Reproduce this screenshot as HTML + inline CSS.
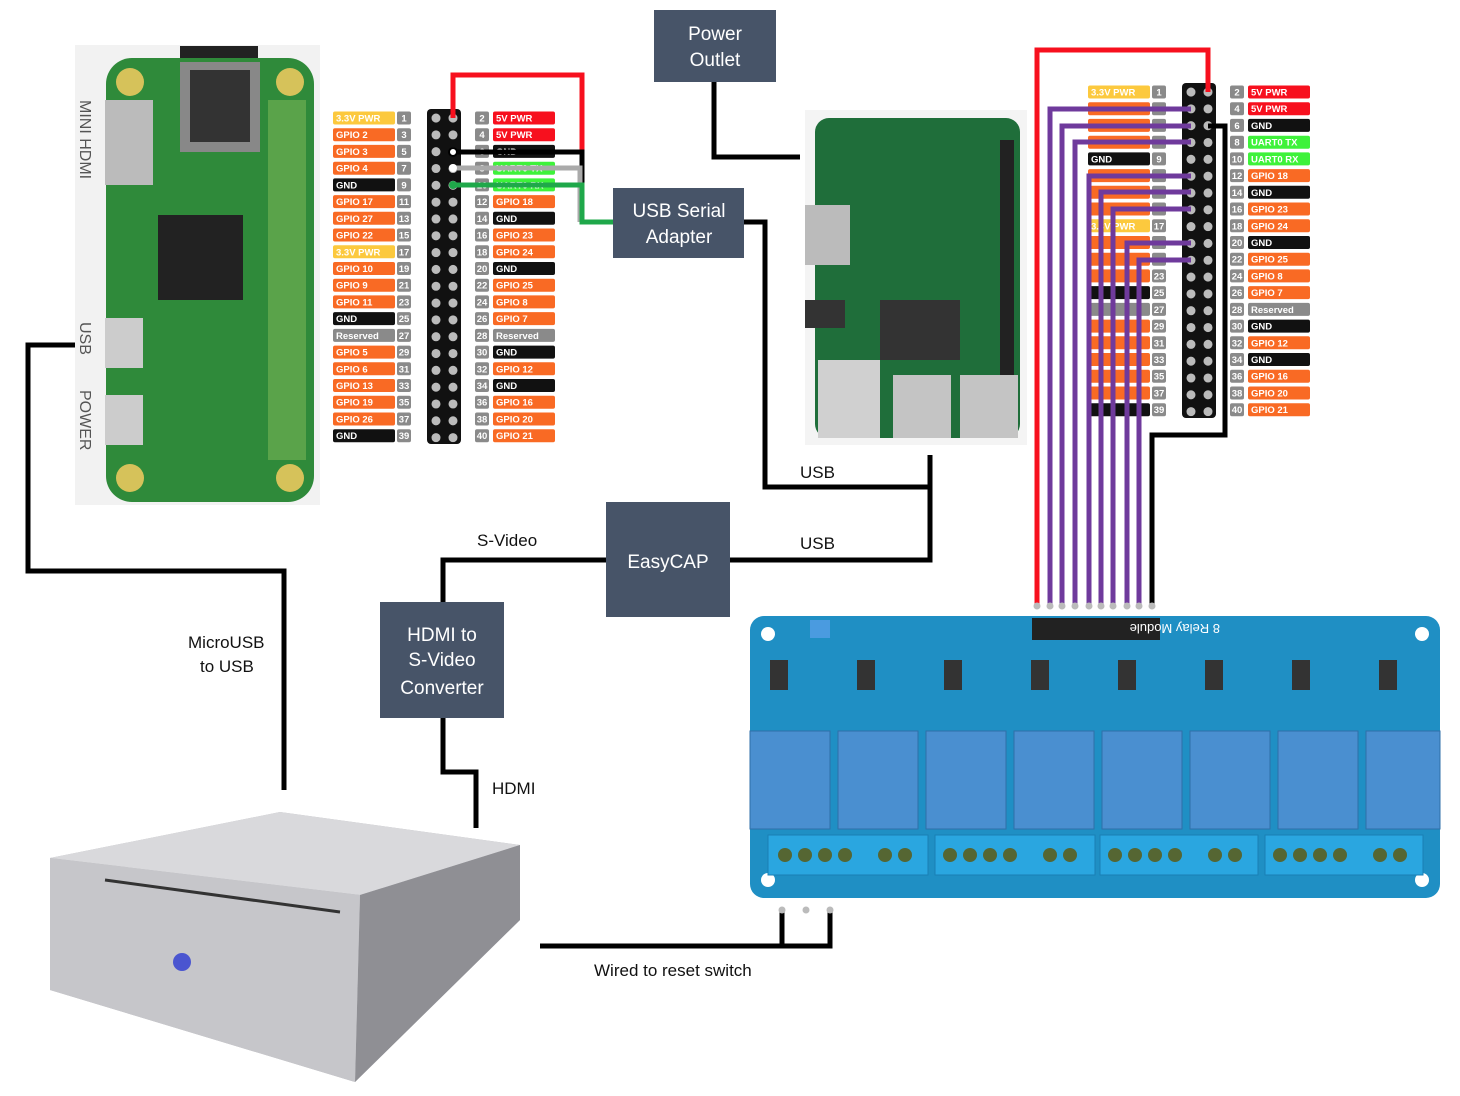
<!DOCTYPE html>
<html><head><meta charset="utf-8"><style>
body{margin:0;background:#fff;width:1460px;height:1096px;overflow:hidden}
svg{display:block;font-family:"Liberation Sans",sans-serif}
.y{fill:#fcc93e}.o{fill:#f96a24}.k{fill:#111}.r{fill:#f7101e}.g{fill:#3ef23a}.gr{fill:#8a8a8a}
.t{fill:#fff;font-size:9.5px;font-weight:bold}
.n{fill:#fff;font-size:9.5px;font-weight:bold;text-anchor:middle}
.box{fill:#475468}
.bt{fill:#fff;font-size:19px;text-anchor:middle}
.lb{fill:#111;font-size:17px}
.w{fill:none;stroke:#000;stroke-width:5}
</style></head><body>
<svg width="1460" height="1096" viewBox="0 0 1460 1096">
<!-- Pi Zero -->
<rect x="75" y="45" width="245" height="460" fill="#f2f2f2"/>
<rect x="180" y="46" width="78" height="16" fill="#222"/>
<rect x="106" y="58" width="208" height="444" rx="26" fill="#2f8a3a"/>
<circle cx="130" cy="82" r="14" fill="#d6c25a"/><circle cx="290" cy="82" r="14" fill="#d6c25a"/>
<circle cx="130" cy="478" r="14" fill="#d6c25a"/><circle cx="290" cy="478" r="14" fill="#d6c25a"/>
<rect x="180" y="62" width="80" height="90" fill="#888"/><rect x="190" y="70" width="60" height="72" fill="#333"/>
<rect x="105" y="100" width="48" height="85" fill="#bbb"/>
<rect x="158" y="215" width="85" height="85" fill="#222"/>
<rect x="105" y="318" width="38" height="50" fill="#ccc"/><rect x="105" y="395" width="38" height="50" fill="#ccc"/>
<rect x="268" y="100" width="38" height="360" fill="#5aa34a"/>
<text x="80" y="100" font-size="16" fill="#555" transform="rotate(90 80 100)">MINI HDMI</text>
<text x="80" y="322" font-size="16" fill="#555" transform="rotate(90 80 322)">USB</text>
<text x="80" y="390" font-size="16" fill="#555" transform="rotate(90 80 390)">POWER</text>

<!-- Left pinout -->
<g transform="translate(333,0)">
<rect x="94" y="109" width="34" height="335" rx="4" fill="#111"/>
<g transform="translate(0,118)"><rect class="y" x="0" y="-6.5" width="62" height="13" rx="2"/><text class="t" x="3" y="3.5">3.3V PWR</text><rect class="gr" x="64" y="-6.5" width="14" height="13" rx="2"/><text class="n" x="71" y="3.5">1</text><rect class="gr" x="142" y="-6.5" width="14" height="13" rx="2"/><text class="n" x="149" y="3.5">2</text><rect class="r" x="160" y="-6.5" width="62" height="13" rx="2"/><text class="t" x="163" y="3.5">5V PWR</text></g>
<g transform="translate(0,134.7)"><rect class="o" x="0" y="-6.5" width="62" height="13" rx="2"/><text class="t" x="3" y="3.5">GPIO 2</text><rect class="gr" x="64" y="-6.5" width="14" height="13" rx="2"/><text class="n" x="71" y="3.5">3</text><rect class="gr" x="142" y="-6.5" width="14" height="13" rx="2"/><text class="n" x="149" y="3.5">4</text><rect class="r" x="160" y="-6.5" width="62" height="13" rx="2"/><text class="t" x="163" y="3.5">5V PWR</text></g>
<g transform="translate(0,151.4)"><rect class="o" x="0" y="-6.5" width="62" height="13" rx="2"/><text class="t" x="3" y="3.5">GPIO 3</text><rect class="gr" x="64" y="-6.5" width="14" height="13" rx="2"/><text class="n" x="71" y="3.5">5</text><rect class="gr" x="142" y="-6.5" width="14" height="13" rx="2"/><text class="n" x="149" y="3.5">6</text><rect class="k" x="160" y="-6.5" width="62" height="13" rx="2"/><text class="t" x="163" y="3.5">GND</text></g>
<g transform="translate(0,168.2)"><rect class="o" x="0" y="-6.5" width="62" height="13" rx="2"/><text class="t" x="3" y="3.5">GPIO 4</text><rect class="gr" x="64" y="-6.5" width="14" height="13" rx="2"/><text class="n" x="71" y="3.5">7</text><rect class="gr" x="142" y="-6.5" width="14" height="13" rx="2"/><text class="n" x="149" y="3.5">8</text><rect class="g" x="160" y="-6.5" width="62" height="13" rx="2"/><text class="t" x="163" y="3.5">UART0 TX</text></g>
<g transform="translate(0,184.9)"><rect class="k" x="0" y="-6.5" width="62" height="13" rx="2"/><text class="t" x="3" y="3.5">GND</text><rect class="gr" x="64" y="-6.5" width="14" height="13" rx="2"/><text class="n" x="71" y="3.5">9</text><rect class="gr" x="142" y="-6.5" width="14" height="13" rx="2"/><text class="n" x="149" y="3.5">10</text><rect class="g" x="160" y="-6.5" width="62" height="13" rx="2"/><text class="t" x="163" y="3.5">UART0 RX</text></g>
<g transform="translate(0,201.6)"><rect class="o" x="0" y="-6.5" width="62" height="13" rx="2"/><text class="t" x="3" y="3.5">GPIO 17</text><rect class="gr" x="64" y="-6.5" width="14" height="13" rx="2"/><text class="n" x="71" y="3.5">11</text><rect class="gr" x="142" y="-6.5" width="14" height="13" rx="2"/><text class="n" x="149" y="3.5">12</text><rect class="o" x="160" y="-6.5" width="62" height="13" rx="2"/><text class="t" x="163" y="3.5">GPIO 18</text></g>
<g transform="translate(0,218.3)"><rect class="o" x="0" y="-6.5" width="62" height="13" rx="2"/><text class="t" x="3" y="3.5">GPIO 27</text><rect class="gr" x="64" y="-6.5" width="14" height="13" rx="2"/><text class="n" x="71" y="3.5">13</text><rect class="gr" x="142" y="-6.5" width="14" height="13" rx="2"/><text class="n" x="149" y="3.5">14</text><rect class="k" x="160" y="-6.5" width="62" height="13" rx="2"/><text class="t" x="163" y="3.5">GND</text></g>
<g transform="translate(0,235)"><rect class="o" x="0" y="-6.5" width="62" height="13" rx="2"/><text class="t" x="3" y="3.5">GPIO 22</text><rect class="gr" x="64" y="-6.5" width="14" height="13" rx="2"/><text class="n" x="71" y="3.5">15</text><rect class="gr" x="142" y="-6.5" width="14" height="13" rx="2"/><text class="n" x="149" y="3.5">16</text><rect class="o" x="160" y="-6.5" width="62" height="13" rx="2"/><text class="t" x="163" y="3.5">GPIO 23</text></g>
<g transform="translate(0,251.8)"><rect class="y" x="0" y="-6.5" width="62" height="13" rx="2"/><text class="t" x="3" y="3.5">3.3V PWR</text><rect class="gr" x="64" y="-6.5" width="14" height="13" rx="2"/><text class="n" x="71" y="3.5">17</text><rect class="gr" x="142" y="-6.5" width="14" height="13" rx="2"/><text class="n" x="149" y="3.5">18</text><rect class="o" x="160" y="-6.5" width="62" height="13" rx="2"/><text class="t" x="163" y="3.5">GPIO 24</text></g>
<g transform="translate(0,268.5)"><rect class="o" x="0" y="-6.5" width="62" height="13" rx="2"/><text class="t" x="3" y="3.5">GPIO 10</text><rect class="gr" x="64" y="-6.5" width="14" height="13" rx="2"/><text class="n" x="71" y="3.5">19</text><rect class="gr" x="142" y="-6.5" width="14" height="13" rx="2"/><text class="n" x="149" y="3.5">20</text><rect class="k" x="160" y="-6.5" width="62" height="13" rx="2"/><text class="t" x="163" y="3.5">GND</text></g>
<g transform="translate(0,285.2)"><rect class="o" x="0" y="-6.5" width="62" height="13" rx="2"/><text class="t" x="3" y="3.5">GPIO 9</text><rect class="gr" x="64" y="-6.5" width="14" height="13" rx="2"/><text class="n" x="71" y="3.5">21</text><rect class="gr" x="142" y="-6.5" width="14" height="13" rx="2"/><text class="n" x="149" y="3.5">22</text><rect class="o" x="160" y="-6.5" width="62" height="13" rx="2"/><text class="t" x="163" y="3.5">GPIO 25</text></g>
<g transform="translate(0,301.9)"><rect class="o" x="0" y="-6.5" width="62" height="13" rx="2"/><text class="t" x="3" y="3.5">GPIO 11</text><rect class="gr" x="64" y="-6.5" width="14" height="13" rx="2"/><text class="n" x="71" y="3.5">23</text><rect class="gr" x="142" y="-6.5" width="14" height="13" rx="2"/><text class="n" x="149" y="3.5">24</text><rect class="o" x="160" y="-6.5" width="62" height="13" rx="2"/><text class="t" x="163" y="3.5">GPIO 8</text></g>
<g transform="translate(0,318.6)"><rect class="k" x="0" y="-6.5" width="62" height="13" rx="2"/><text class="t" x="3" y="3.5">GND</text><rect class="gr" x="64" y="-6.5" width="14" height="13" rx="2"/><text class="n" x="71" y="3.5">25</text><rect class="gr" x="142" y="-6.5" width="14" height="13" rx="2"/><text class="n" x="149" y="3.5">26</text><rect class="o" x="160" y="-6.5" width="62" height="13" rx="2"/><text class="t" x="163" y="3.5">GPIO 7</text></g>
<g transform="translate(0,335.4)"><rect class="gr" x="0" y="-6.5" width="62" height="13" rx="2"/><text class="t" x="3" y="3.5">Reserved</text><rect class="gr" x="64" y="-6.5" width="14" height="13" rx="2"/><text class="n" x="71" y="3.5">27</text><rect class="gr" x="142" y="-6.5" width="14" height="13" rx="2"/><text class="n" x="149" y="3.5">28</text><rect class="gr" x="160" y="-6.5" width="62" height="13" rx="2"/><text class="t" x="163" y="3.5">Reserved</text></g>
<g transform="translate(0,352.1)"><rect class="o" x="0" y="-6.5" width="62" height="13" rx="2"/><text class="t" x="3" y="3.5">GPIO 5</text><rect class="gr" x="64" y="-6.5" width="14" height="13" rx="2"/><text class="n" x="71" y="3.5">29</text><rect class="gr" x="142" y="-6.5" width="14" height="13" rx="2"/><text class="n" x="149" y="3.5">30</text><rect class="k" x="160" y="-6.5" width="62" height="13" rx="2"/><text class="t" x="163" y="3.5">GND</text></g>
<g transform="translate(0,368.8)"><rect class="o" x="0" y="-6.5" width="62" height="13" rx="2"/><text class="t" x="3" y="3.5">GPIO 6</text><rect class="gr" x="64" y="-6.5" width="14" height="13" rx="2"/><text class="n" x="71" y="3.5">31</text><rect class="gr" x="142" y="-6.5" width="14" height="13" rx="2"/><text class="n" x="149" y="3.5">32</text><rect class="o" x="160" y="-6.5" width="62" height="13" rx="2"/><text class="t" x="163" y="3.5">GPIO 12</text></g>
<g transform="translate(0,385.5)"><rect class="o" x="0" y="-6.5" width="62" height="13" rx="2"/><text class="t" x="3" y="3.5">GPIO 13</text><rect class="gr" x="64" y="-6.5" width="14" height="13" rx="2"/><text class="n" x="71" y="3.5">33</text><rect class="gr" x="142" y="-6.5" width="14" height="13" rx="2"/><text class="n" x="149" y="3.5">34</text><rect class="k" x="160" y="-6.5" width="62" height="13" rx="2"/><text class="t" x="163" y="3.5">GND</text></g>
<g transform="translate(0,402.2)"><rect class="o" x="0" y="-6.5" width="62" height="13" rx="2"/><text class="t" x="3" y="3.5">GPIO 19</text><rect class="gr" x="64" y="-6.5" width="14" height="13" rx="2"/><text class="n" x="71" y="3.5">35</text><rect class="gr" x="142" y="-6.5" width="14" height="13" rx="2"/><text class="n" x="149" y="3.5">36</text><rect class="o" x="160" y="-6.5" width="62" height="13" rx="2"/><text class="t" x="163" y="3.5">GPIO 16</text></g>
<g transform="translate(0,419)"><rect class="o" x="0" y="-6.5" width="62" height="13" rx="2"/><text class="t" x="3" y="3.5">GPIO 26</text><rect class="gr" x="64" y="-6.5" width="14" height="13" rx="2"/><text class="n" x="71" y="3.5">37</text><rect class="gr" x="142" y="-6.5" width="14" height="13" rx="2"/><text class="n" x="149" y="3.5">38</text><rect class="o" x="160" y="-6.5" width="62" height="13" rx="2"/><text class="t" x="163" y="3.5">GPIO 20</text></g>
<g transform="translate(0,435.7)"><rect class="k" x="0" y="-6.5" width="62" height="13" rx="2"/><text class="t" x="3" y="3.5">GND</text><rect class="gr" x="64" y="-6.5" width="14" height="13" rx="2"/><text class="n" x="71" y="3.5">39</text><rect class="gr" x="142" y="-6.5" width="14" height="13" rx="2"/><text class="n" x="149" y="3.5">40</text><rect class="o" x="160" y="-6.5" width="62" height="13" rx="2"/><text class="t" x="163" y="3.5">GPIO 21</text></g>
<g fill="#bbb" stroke="#bbb" stroke-width="9" stroke-dasharray="0.1 16.72" stroke-linecap="round"><line x1="103" y1="118" x2="103" y2="440"/><line x1="120" y1="118" x2="120" y2="440"/></g>
</g>
<!-- left wires -->
<polyline points="453,118 453,75 582,75 582,165" fill="none" stroke="#f7101e" stroke-width="5"/>
<polyline points="453,152 582,152 582,222" fill="none" stroke="#000" stroke-width="5"/>
<polyline points="453,168 580,168 580,222" fill="none" stroke="#aaa" stroke-width="5"/>
<polyline points="453,185 582,185 582,222 613,222" fill="none" stroke="#1fa84a" stroke-width="5"/>
<circle cx="453" cy="152" r="4" fill="#fff" stroke="#000" stroke-width="2"/>
<circle cx="453" cy="168" r="4" fill="#fff"/>
<circle cx="453" cy="185" r="4" fill="#1fa84a"/>

<!-- Power outlet -->
<polyline class="w" points="714,82 714,157 800,157"/>
<rect class="box" x="654" y="10" width="122" height="72"/>
<text class="bt" x="715" y="40">Power</text><text class="bt" x="715" y="66">Outlet</text>

<!-- USB Serial -->
<polyline class="w" points="744,222 765,222 765,487 930,487 930,455"/>
<rect class="box" x="613" y="188" width="131" height="70"/>
<text class="bt" x="679" y="217">USB Serial</text><text class="bt" x="679" y="243">Adapter</text>
<text class="lb" x="800" y="478">USB</text>

<!-- Pi 3 -->
<rect x="805" y="110" width="222" height="335" fill="#f4f4f4"/>
<rect x="815" y="118" width="205" height="320" rx="14" fill="#1f6e3a"/>
<rect x="1000" y="140" width="14" height="290" fill="#222"/>
<rect x="880" y="300" width="80" height="60" fill="#333"/>
<rect x="805" y="205" width="45" height="60" fill="#bbb"/>
<rect x="818" y="360" width="62" height="78" fill="#d0d0d0"/>
<rect x="893" y="375" width="58" height="63" fill="#c4c4c4"/>
<rect x="960" y="375" width="58" height="63" fill="#c4c4c4"/>
<rect x="805" y="300" width="40" height="28" fill="#333"/>

<!-- Right pinout -->
<g transform="translate(1088,-26)">
<rect x="94" y="109" width="34" height="335" rx="4" fill="#111"/>
<g transform="translate(0,118)"><rect class="y" x="0" y="-6.5" width="62" height="13" rx="2"/><text class="t" x="3" y="3.5">3.3V PWR</text><rect class="gr" x="64" y="-6.5" width="14" height="13" rx="2"/><text class="n" x="71" y="3.5">1</text><rect class="gr" x="142" y="-6.5" width="14" height="13" rx="2"/><text class="n" x="149" y="3.5">2</text><rect class="r" x="160" y="-6.5" width="62" height="13" rx="2"/><text class="t" x="163" y="3.5">5V PWR</text></g>
<g transform="translate(0,134.7)"><rect class="o" x="0" y="-6.5" width="62" height="13" rx="2"/><rect class="gr" x="64" y="-6.5" width="14" height="13" rx="2"/><rect class="gr" x="142" y="-6.5" width="14" height="13" rx="2"/><text class="n" x="149" y="3.5">4</text><rect class="r" x="160" y="-6.5" width="62" height="13" rx="2"/><text class="t" x="163" y="3.5">5V PWR</text></g>
<g transform="translate(0,151.4)"><rect class="o" x="0" y="-6.5" width="62" height="13" rx="2"/><rect class="gr" x="64" y="-6.5" width="14" height="13" rx="2"/><rect class="gr" x="142" y="-6.5" width="14" height="13" rx="2"/><text class="n" x="149" y="3.5">6</text><rect class="k" x="160" y="-6.5" width="62" height="13" rx="2"/><text class="t" x="163" y="3.5">GND</text></g>
<g transform="translate(0,168.2)"><rect class="o" x="0" y="-6.5" width="62" height="13" rx="2"/><rect class="gr" x="64" y="-6.5" width="14" height="13" rx="2"/><rect class="gr" x="142" y="-6.5" width="14" height="13" rx="2"/><text class="n" x="149" y="3.5">8</text><rect class="g" x="160" y="-6.5" width="62" height="13" rx="2"/><text class="t" x="163" y="3.5">UART0 TX</text></g>
<g transform="translate(0,184.9)"><rect class="k" x="0" y="-6.5" width="62" height="13" rx="2"/><text class="t" x="3" y="3.5">GND</text><rect class="gr" x="64" y="-6.5" width="14" height="13" rx="2"/><text class="n" x="71" y="3.5">9</text><rect class="gr" x="142" y="-6.5" width="14" height="13" rx="2"/><text class="n" x="149" y="3.5">10</text><rect class="g" x="160" y="-6.5" width="62" height="13" rx="2"/><text class="t" x="163" y="3.5">UART0 RX</text></g>
<g transform="translate(0,201.6)"><rect class="o" x="0" y="-6.5" width="62" height="13" rx="2"/><rect class="gr" x="64" y="-6.5" width="14" height="13" rx="2"/><rect class="gr" x="142" y="-6.5" width="14" height="13" rx="2"/><text class="n" x="149" y="3.5">12</text><rect class="o" x="160" y="-6.5" width="62" height="13" rx="2"/><text class="t" x="163" y="3.5">GPIO 18</text></g>
<g transform="translate(0,218.3)"><rect class="o" x="0" y="-6.5" width="62" height="13" rx="2"/><rect class="gr" x="64" y="-6.5" width="14" height="13" rx="2"/><rect class="gr" x="142" y="-6.5" width="14" height="13" rx="2"/><text class="n" x="149" y="3.5">14</text><rect class="k" x="160" y="-6.5" width="62" height="13" rx="2"/><text class="t" x="163" y="3.5">GND</text></g>
<g transform="translate(0,235)"><rect class="o" x="0" y="-6.5" width="62" height="13" rx="2"/><rect class="gr" x="64" y="-6.5" width="14" height="13" rx="2"/><rect class="gr" x="142" y="-6.5" width="14" height="13" rx="2"/><text class="n" x="149" y="3.5">16</text><rect class="o" x="160" y="-6.5" width="62" height="13" rx="2"/><text class="t" x="163" y="3.5">GPIO 23</text></g>
<g transform="translate(0,251.8)"><rect class="y" x="0" y="-6.5" width="62" height="13" rx="2"/><text class="t" x="3" y="3.5">3.3V PWR</text><rect class="gr" x="64" y="-6.5" width="14" height="13" rx="2"/><text class="n" x="71" y="3.5">17</text><rect class="gr" x="142" y="-6.5" width="14" height="13" rx="2"/><text class="n" x="149" y="3.5">18</text><rect class="o" x="160" y="-6.5" width="62" height="13" rx="2"/><text class="t" x="163" y="3.5">GPIO 24</text></g>
<g transform="translate(0,268.5)"><rect class="o" x="0" y="-6.5" width="62" height="13" rx="2"/><rect class="gr" x="64" y="-6.5" width="14" height="13" rx="2"/><rect class="gr" x="142" y="-6.5" width="14" height="13" rx="2"/><text class="n" x="149" y="3.5">20</text><rect class="k" x="160" y="-6.5" width="62" height="13" rx="2"/><text class="t" x="163" y="3.5">GND</text></g>
<g transform="translate(0,285.2)"><rect class="o" x="0" y="-6.5" width="62" height="13" rx="2"/><rect class="gr" x="64" y="-6.5" width="14" height="13" rx="2"/><rect class="gr" x="142" y="-6.5" width="14" height="13" rx="2"/><text class="n" x="149" y="3.5">22</text><rect class="o" x="160" y="-6.5" width="62" height="13" rx="2"/><text class="t" x="163" y="3.5">GPIO 25</text></g>
<g transform="translate(0,301.9)"><rect class="o" x="0" y="-6.5" width="62" height="13" rx="2"/><rect class="gr" x="64" y="-6.5" width="14" height="13" rx="2"/><text class="n" x="71" y="3.5">23</text><rect class="gr" x="142" y="-6.5" width="14" height="13" rx="2"/><text class="n" x="149" y="3.5">24</text><rect class="o" x="160" y="-6.5" width="62" height="13" rx="2"/><text class="t" x="163" y="3.5">GPIO 8</text></g>
<g transform="translate(0,318.6)"><rect class="k" x="0" y="-6.5" width="62" height="13" rx="2"/><rect class="gr" x="64" y="-6.5" width="14" height="13" rx="2"/><text class="n" x="71" y="3.5">25</text><rect class="gr" x="142" y="-6.5" width="14" height="13" rx="2"/><text class="n" x="149" y="3.5">26</text><rect class="o" x="160" y="-6.5" width="62" height="13" rx="2"/><text class="t" x="163" y="3.5">GPIO 7</text></g>
<g transform="translate(0,335.4)"><rect class="gr" x="0" y="-6.5" width="62" height="13" rx="2"/><rect class="gr" x="64" y="-6.5" width="14" height="13" rx="2"/><text class="n" x="71" y="3.5">27</text><rect class="gr" x="142" y="-6.5" width="14" height="13" rx="2"/><text class="n" x="149" y="3.5">28</text><rect class="gr" x="160" y="-6.5" width="62" height="13" rx="2"/><text class="t" x="163" y="3.5">Reserved</text></g>
<g transform="translate(0,352.1)"><rect class="o" x="0" y="-6.5" width="62" height="13" rx="2"/><rect class="gr" x="64" y="-6.5" width="14" height="13" rx="2"/><text class="n" x="71" y="3.5">29</text><rect class="gr" x="142" y="-6.5" width="14" height="13" rx="2"/><text class="n" x="149" y="3.5">30</text><rect class="k" x="160" y="-6.5" width="62" height="13" rx="2"/><text class="t" x="163" y="3.5">GND</text></g>
<g transform="translate(0,368.8)"><rect class="o" x="0" y="-6.5" width="62" height="13" rx="2"/><rect class="gr" x="64" y="-6.5" width="14" height="13" rx="2"/><text class="n" x="71" y="3.5">31</text><rect class="gr" x="142" y="-6.5" width="14" height="13" rx="2"/><text class="n" x="149" y="3.5">32</text><rect class="o" x="160" y="-6.5" width="62" height="13" rx="2"/><text class="t" x="163" y="3.5">GPIO 12</text></g>
<g transform="translate(0,385.5)"><rect class="o" x="0" y="-6.5" width="62" height="13" rx="2"/><rect class="gr" x="64" y="-6.5" width="14" height="13" rx="2"/><text class="n" x="71" y="3.5">33</text><rect class="gr" x="142" y="-6.5" width="14" height="13" rx="2"/><text class="n" x="149" y="3.5">34</text><rect class="k" x="160" y="-6.5" width="62" height="13" rx="2"/><text class="t" x="163" y="3.5">GND</text></g>
<g transform="translate(0,402.2)"><rect class="o" x="0" y="-6.5" width="62" height="13" rx="2"/><rect class="gr" x="64" y="-6.5" width="14" height="13" rx="2"/><text class="n" x="71" y="3.5">35</text><rect class="gr" x="142" y="-6.5" width="14" height="13" rx="2"/><text class="n" x="149" y="3.5">36</text><rect class="o" x="160" y="-6.5" width="62" height="13" rx="2"/><text class="t" x="163" y="3.5">GPIO 16</text></g>
<g transform="translate(0,419)"><rect class="o" x="0" y="-6.5" width="62" height="13" rx="2"/><rect class="gr" x="64" y="-6.5" width="14" height="13" rx="2"/><text class="n" x="71" y="3.5">37</text><rect class="gr" x="142" y="-6.5" width="14" height="13" rx="2"/><text class="n" x="149" y="3.5">38</text><rect class="o" x="160" y="-6.5" width="62" height="13" rx="2"/><text class="t" x="163" y="3.5">GPIO 20</text></g>
<g transform="translate(0,435.7)"><rect class="k" x="0" y="-6.5" width="62" height="13" rx="2"/><rect class="gr" x="64" y="-6.5" width="14" height="13" rx="2"/><text class="n" x="71" y="3.5">39</text><rect class="gr" x="142" y="-6.5" width="14" height="13" rx="2"/><text class="n" x="149" y="3.5">40</text><rect class="o" x="160" y="-6.5" width="62" height="13" rx="2"/><text class="t" x="163" y="3.5">GPIO 21</text></g>
<g fill="#bbb" stroke="#bbb" stroke-width="9" stroke-dasharray="0.1 16.72" stroke-linecap="round"><line x1="103" y1="118" x2="103" y2="440"/><line x1="120" y1="118" x2="120" y2="440"/></g>
</g>
<!-- right wires -->
<polyline points="1208,92 1208,50 1037,50 1037,605" fill="none" stroke="#f7101e" stroke-width="5"/>
<polyline points="1208,126 1225,126 1225,435 1152,435 1152,605" fill="none" stroke="#000" stroke-width="5"/>
<g fill="none" stroke="#6f3a9c" stroke-width="5">
<polyline points="1191,109 1050,109 1050,605"/>
<polyline points="1191,126 1062,126 1062,605"/>
<polyline points="1191,142 1075,142 1075,605"/>
<polyline points="1191,176 1089,176 1089,605"/>
<polyline points="1191,192 1101,192 1101,605"/>
<polyline points="1191,209 1113,209 1113,605"/>
<polyline points="1191,243 1127,243 1127,605"/>
<polyline points="1191,260 1139,260 1139,605"/>
</g>
<g fill="#bbb"><circle cx="1037" cy="606" r="3.5"/><circle cx="1050" cy="606" r="3.5"/><circle cx="1062" cy="606" r="3.5"/><circle cx="1075" cy="606" r="3.5"/><circle cx="1089" cy="606" r="3.5"/><circle cx="1101" cy="606" r="3.5"/><circle cx="1113" cy="606" r="3.5"/><circle cx="1127" cy="606" r="3.5"/><circle cx="1139" cy="606" r="3.5"/><circle cx="1152" cy="606" r="3.5"/></g>

<!-- EasyCAP and HDMI -->
<polyline class="w" points="730,560 930,560 930,487"/>
<polyline class="w" points="606,560 443,560 443,602"/>
<polyline class="w" points="443,718 443,772 476,772 476,828"/>
<rect class="box" x="606" y="502" width="124" height="115"/>
<text class="bt" x="668" y="568">EasyCAP</text>
<text class="lb" x="800" y="549">USB</text>
<text class="lb" x="477" y="546">S-Video</text>
<rect class="box" x="380" y="602" width="124" height="116"/>
<text class="bt" x="442" y="641">HDMI to</text><text class="bt" x="442" y="666">S-Video</text><text class="bt" x="442" y="694">Converter</text>
<text class="lb" x="492" y="794">HDMI</text>

<!-- MicroUSB -->
<polyline class="w" points="75,345 28,345 28,571 284,571 284,790"/>
<text class="lb" x="188" y="648">MicroUSB</text><text class="lb" x="200" y="672">to USB</text>

<!-- Relay board -->
<rect x="750" y="616" width="690" height="282" rx="14" fill="#1f8fc4"/>
<circle cx="768" cy="634" r="7" fill="#fff"/><circle cx="1422" cy="634" r="7" fill="#fff"/><circle cx="768" cy="880" r="7" fill="#fff"/><circle cx="1422" cy="880" r="7" fill="#fff"/>
<rect x="1032" y="618" width="128" height="22" fill="#222"/>
<rect x="810" y="620" width="20" height="18" fill="#4a9be0"/>
<g fill="#333"><rect x="770" y="660" width="18" height="30"/><rect x="857" y="660" width="18" height="30"/><rect x="944" y="660" width="18" height="30"/><rect x="1031" y="660" width="18" height="30"/><rect x="1118" y="660" width="18" height="30"/><rect x="1205" y="660" width="18" height="30"/><rect x="1292" y="660" width="18" height="30"/><rect x="1379" y="660" width="18" height="30"/></g>
<g fill="#4a8fd0" stroke="#2f6fa8"><rect x="750" y="731" width="80" height="98"/><rect x="838" y="731" width="80" height="98"/><rect x="926" y="731" width="80" height="98"/><rect x="1014" y="731" width="80" height="98"/><rect x="1102" y="731" width="80" height="98"/><rect x="1190" y="731" width="80" height="98"/><rect x="1278" y="731" width="80" height="98"/><rect x="1366" y="731" width="74" height="98"/></g>
<g fill="#2aa6e0" stroke="#1a7fb4"><rect x="768" y="835" width="160" height="40"/><rect x="935" y="835" width="160" height="40"/><rect x="1100" y="835" width="158" height="40"/><rect x="1265" y="835" width="158" height="40"/></g>
<g fill="#556633"><circle cx="785" cy="855" r="7"/><circle cx="805" cy="855" r="7"/><circle cx="825" cy="855" r="7"/><circle cx="845" cy="855" r="7"/><circle cx="885" cy="855" r="7"/><circle cx="905" cy="855" r="7"/><circle cx="950" cy="855" r="7"/><circle cx="970" cy="855" r="7"/><circle cx="990" cy="855" r="7"/><circle cx="1010" cy="855" r="7"/><circle cx="1050" cy="855" r="7"/><circle cx="1070" cy="855" r="7"/><circle cx="1115" cy="855" r="7"/><circle cx="1135" cy="855" r="7"/><circle cx="1155" cy="855" r="7"/><circle cx="1175" cy="855" r="7"/><circle cx="1215" cy="855" r="7"/><circle cx="1235" cy="855" r="7"/><circle cx="1280" cy="855" r="7"/><circle cx="1300" cy="855" r="7"/><circle cx="1320" cy="855" r="7"/><circle cx="1340" cy="855" r="7"/><circle cx="1380" cy="855" r="7"/><circle cx="1400" cy="855" r="7"/></g>
<text x="1300" y="632" font-size="13" fill="#fff" transform="rotate(180 1260 628)">8 Relay Module</text>

<!-- reset wire -->
<polyline class="w" points="540,946 830,946 830,912"/>
<line class="w" x1="782" y1="946" x2="782" y2="912"/>
<g fill="#bbb"><circle cx="782" cy="910" r="3.5"/><circle cx="806" cy="910" r="3.5"/><circle cx="830" cy="910" r="3.5"/></g>
<text class="lb" x="594" y="976">Wired to reset switch</text>

<!-- Mini PC -->
<polygon points="50,858 280,812 520,845 520,920 355,1082 50,990" fill="#b9b9bd"/>
<polygon points="50,858 280,812 520,845 360,895" fill="#d9d9dc"/>
<polygon points="360,895 520,845 520,920 355,1082" fill="#8f8f94"/>
<polygon points="50,858 360,895 355,1082 50,990" fill="#c6c6ca"/>
<line x1="105" y1="880" x2="340" y2="912" stroke="#333" stroke-width="3"/>
<circle cx="182" cy="962" r="9" fill="#4a55d0"/>
</svg>
</body></html>
